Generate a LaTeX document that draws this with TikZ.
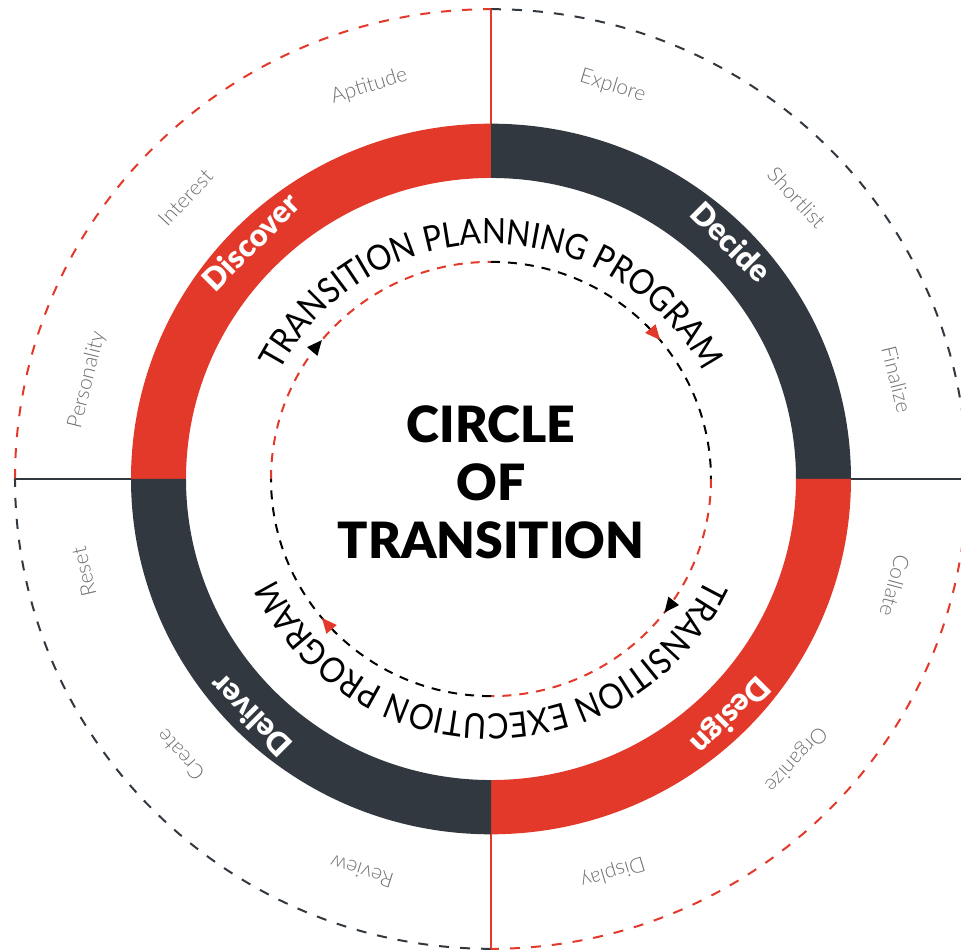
\documentclass[tikz,border=0pt]{standalone}
\usepackage{fontspec}
\setmainfont{Lato}
\newfontfamily\lightfont{Lato Light}
\newfontfamily\heavyfont{Lato Black}
\usetikzlibrary{shapes.geometric, arrows.meta, decorations.text, decorations.markings}

\definecolor{ringred}{HTML}{E2392A}
\definecolor{ringdark}{HTML}{32383F}
\definecolor{labelgray}{HTML}{707070}

\newfontfamily\planfamily{Lato}[FakeStretch=0.9]
\newcommand{\planfont}{\planfamily\fontsize{35}{40}\selectfont}

\tikzstyle{ringlabel} = [text=white, font=\heavyfont\fontsize{31}{36}\selectfont, inner sep=0pt, anchor=mid]
\tikzstyle{outerlabel} = [text=labelgray, font=\lightfont\fontsize{21}{25}\selectfont, inner sep=0pt, anchor=mid]
\tikzstyle{titletext} = [text=black, font=\heavyfont\fontsize{50}{58}\selectfont, align=center]
\tikzstyle{outerred} = [ringred, line width=2pt, dash pattern=on 10pt off 11pt]
\tikzstyle{outerdark} = [ringdark, line width=2pt, dash pattern=on 10pt off 11pt]
\tikzstyle{innerred} = [ringred, line width=2pt, dash pattern=on 9pt off 8pt]
\tikzstyle{innerdark} = [black, line width=2pt, dash pattern=on 9pt off 8pt]
\tikzstyle{blacktip} = [postaction={decorate}, decoration={markings, mark=at position #1 with {\arrow{Triangle[length=15pt, width=13pt, color=black]}}}]
\tikzstyle{redtip} = [postaction={decorate}, decoration={markings, mark=at position #1 with {\arrow{Triangle[length=15pt, width=13pt, color=ringred]}}}]
\tikzstyle{axisred} = [ringred, line width=2pt]
\tikzstyle{axisdark} = [ringdark, line width=1.5pt]

\begin{document}
\begin{tikzpicture}[x=1pt, y=0.987pt]

    \useasboundingbox (-491pt,-471pt) rectangle (470pt,479pt);
    \clip (-491pt,-471pt) rectangle (470pt,479pt);

    % outer dashed circle
    \draw [outerred] (180:476) arc [start angle=180, end angle=90, radius=476];
    \draw [outerdark] (90:476) arc [start angle=90, end angle=0, radius=476];
    \draw [outerred] (0:476) arc [start angle=0, end angle=-90, radius=476];
    \draw [outerdark] (270:476) arc [start angle=270, end angle=180, radius=476];

    % axes
    \draw [axisred] (90:476) -- (90:360);
    \draw [axisred] (270:360) -- (270:476);
    \draw [axisdark] (180:476) -- (180:360);
    \draw [axisdark] (0:360) -- (0:476);

    % ring
    \fill [ringred] (90:360) arc [start angle=90, end angle=180, radius=360] -- (180:305) arc [start angle=180, end angle=90, radius=305] -- cycle;
    \fill [ringdark] (0:360) arc [start angle=0, end angle=90, radius=360] -- (90:305) arc [start angle=90, end angle=0, radius=305] -- cycle;
    \fill [ringred] (-90:360) arc [start angle=-90, end angle=0, radius=360] -- (0:305) arc [start angle=0, end angle=-90, radius=305] -- cycle;
    \fill [ringdark] (180:360) arc [start angle=180, end angle=270, radius=360] -- (270:305) arc [start angle=270, end angle=180, radius=305] -- cycle;

    \node (discover) [ringlabel, rotate=45] at (135:331) {Discover};
    \node (decide) [ringlabel, rotate=-45] at (45:331) {Decide};
    \node (design) [ringlabel, rotate=-135] at (-45:331) {Design};
    \node (deliver) [ringlabel, rotate=135] at (225:331) {Deliver};

    % outer labels
    \node (aptitude) [outerlabel, rotate=17] at (107:413) {Aptitude};
    \node (interest) [outerlabel, rotate=47] at (137:413) {Interest};
    \node (personality) [outerlabel, rotate=76] at (166:413) {Personality};
    \node (explore) [outerlabel, rotate=-17] at (73:413) {Explore};
    \node (shortlist) [outerlabel, rotate=-47] at (43:413) {Shortlist};
    \node (finalize) [outerlabel, rotate=-76] at (14:413) {Finalize};
    \node (collate) [outerlabel, rotate=-105] at (-15:413) {Collate};
    \node (organize) [outerlabel, rotate=-133] at (-43:413) {Organize};
    \node (display) [outerlabel, rotate=-163] at (-73:413) {Display};
    \node (reset) [outerlabel, rotate=103] at (193:413) {Reset};
    \node (create) [outerlabel, rotate=132] at (222:413) {Create};
    \node (review) [outerlabel, rotate=162] at (252:413) {Review};

    % inner dashed circle
    \draw [innerred, blacktip=0.44] (180:220) arc [start angle=180, end angle=90, radius=220];
    \draw [innerdark, redtip=0.56] (90:220) arc [start angle=90, end angle=0, radius=220];
    \draw [innerred, blacktip=0.42] (0:220) arc [start angle=0, end angle=-90, radius=220];
    \draw [innerdark, redtip=0.56] (270:220) arc [start angle=270, end angle=180, radius=220];

    % curved program texts
    \path [decorate, decoration={text along path, text align=center, text={|\planfont|TRANSITION PLANNING PROGRAM}}] (175:238) arc [start angle=175, end angle=5, radius=238];
    \path [decorate, decoration={text along path, text align=center, text={|\planfont|TRANSITION EXECUTION PROGRAM}}] (-5:238) arc [start angle=-5, end angle=-175, radius=238];

    \node (title) [titletext] at (0,-3) {CIRCLE\\OF\\TRANSITION};

\end{tikzpicture}
\end{document}
